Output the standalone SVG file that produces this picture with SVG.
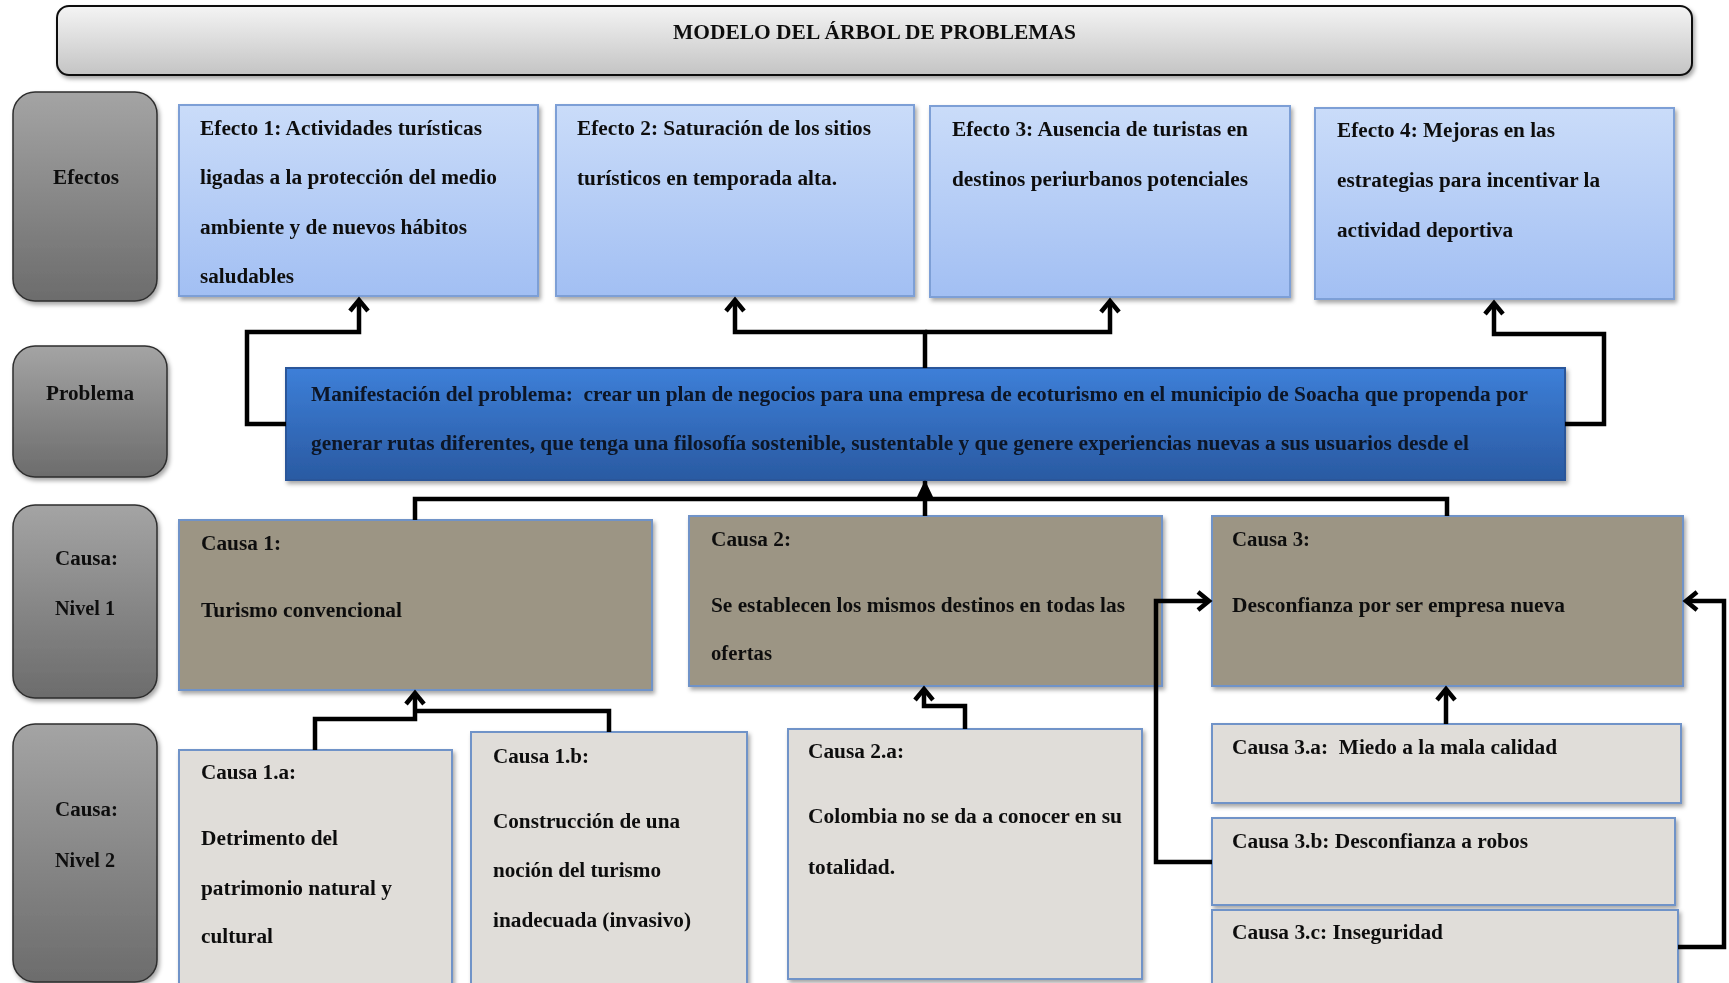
<svg xmlns="http://www.w3.org/2000/svg" width="1729" height="983" viewBox="0 0 1729 983">
<defs>
<linearGradient id="gTitle" x1="0" y1="0" x2="0" y2="1"><stop offset="0" stop-color="#f4f4f4"/><stop offset="1" stop-color="#c4c4c4"/></linearGradient>
<linearGradient id="gLab" x1="0" y1="0" x2="0" y2="1"><stop offset="0" stop-color="#a4a4a4"/><stop offset="1" stop-color="#6c6c6c"/></linearGradient>
<linearGradient id="gEf" x1="0" y1="0" x2="0" y2="1"><stop offset="0" stop-color="#cadcf9"/><stop offset="1" stop-color="#a2bff3"/></linearGradient>
<linearGradient id="gPr" x1="0" y1="0" x2="0" y2="1"><stop offset="0" stop-color="#3d7fd8"/><stop offset="1" stop-color="#2a5aa2"/></linearGradient>
<filter id="sh" x="-5%" y="-5%" width="115%" height="125%"><feDropShadow dx="2" dy="3" stdDeviation="2" flood-color="#000" flood-opacity="0.35"/></filter>
<marker id="ah" markerUnits="userSpaceOnUse" viewBox="-16 -13 20 26" markerWidth="20" markerHeight="26" refX="0" refY="0" orient="auto">
<path d="M-11,-9 L0,0 L-11,9" fill="none" stroke="#000" stroke-width="4.5"/>
</marker>
<marker id="ahf" markerUnits="userSpaceOnUse" viewBox="-20 -11 22 22" markerWidth="22" markerHeight="22" refX="0" refY="0" orient="auto">
<path d="M-18,-9 L1,0 L-18,9 Z" fill="#000"/>
</marker>
<style>
text{font-family:"Liberation Serif","Times New Roman",serif;font-weight:bold;font-size:20px;fill:#111}
.t{font-size:21px}
.pt{fill:#0c1526}
.lab{stroke:#2e2e2e;stroke-width:1.5;fill:url(#gLab)}
.ef{fill:url(#gEf);stroke:#7d9fd6;stroke-width:2}
.pr{fill:url(#gPr);stroke:#2b569a;stroke-width:2}
.c1{fill:#9c9584;stroke:#6f93c8;stroke-width:2}
.c2{fill:#e0ddd9;stroke:#6f93c8;stroke-width:2}
.cn{fill:none;stroke:#000;stroke-width:4.5;stroke-linejoin:miter}
.ar{marker-end:url(#ah)}
.af{marker-end:url(#ahf)}
</style>
</defs>
<rect width="1729" height="983" fill="#fff"/>

<g id="title" filter="url(#sh)">
<rect x="57" y="6" width="1635" height="69" rx="12" fill="url(#gTitle)" stroke="#111" stroke-width="2"/>
<text class="t" x="673" y="39" textLength="403" lengthAdjust="spacingAndGlyphs">MODELO DEL ÁRBOL DE PROBLEMAS</text>
</g>

<g id="lab-efectos" filter="url(#sh)">
<rect class="lab" x="13" y="92" width="144" height="209" rx="22"/>
<text x="53" y="184" textLength="66" lengthAdjust="spacingAndGlyphs">Efectos</text>
</g>
<g id="lab-problema" filter="url(#sh)">
<rect class="lab" x="13" y="346" width="154" height="131" rx="22"/>
<text x="46" y="400" textLength="88" lengthAdjust="spacingAndGlyphs">Problema</text>
</g>
<g id="lab-nivel1" filter="url(#sh)">
<rect class="lab" x="13" y="505" width="144" height="193" rx="22"/>
<text x="55" y="565" textLength="63" lengthAdjust="spacingAndGlyphs">Causa:</text>
<text x="55" y="615" textLength="60" lengthAdjust="spacingAndGlyphs">Nivel 1</text>
</g>
<g id="lab-nivel2" filter="url(#sh)">
<rect class="lab" x="13" y="724" width="144" height="258" rx="22"/>
<text x="55" y="816" textLength="63" lengthAdjust="spacingAndGlyphs">Causa:</text>
<text x="55" y="867" textLength="60" lengthAdjust="spacingAndGlyphs">Nivel 2</text>
</g>

<g id="efecto1" filter="url(#sh)">
<rect class="ef" x="179" y="105" width="359" height="191"/>
<text x="200" y="135" textLength="282" lengthAdjust="spacingAndGlyphs">Efecto 1: Actividades turísticas</text>
<text x="200" y="184" textLength="297" lengthAdjust="spacingAndGlyphs">ligadas a la protección del medio</text>
<text x="200" y="234" textLength="267" lengthAdjust="spacingAndGlyphs">ambiente y de nuevos hábitos</text>
<text x="200" y="283" textLength="94" lengthAdjust="spacingAndGlyphs">saludables</text>
</g>
<g id="efecto2" filter="url(#sh)">
<rect class="ef" x="556" y="105" width="358" height="191"/>
<text x="577" y="135" textLength="294" lengthAdjust="spacingAndGlyphs">Efecto 2: Saturación de los sitios</text>
<text x="577" y="185" textLength="260" lengthAdjust="spacingAndGlyphs">turísticos en temporada alta.</text>
</g>
<g id="efecto3" filter="url(#sh)">
<rect class="ef" x="930" y="106" width="360" height="191"/>
<text x="952" y="136" textLength="296" lengthAdjust="spacingAndGlyphs">Efecto 3: Ausencia de turistas en</text>
<text x="952" y="186" textLength="296" lengthAdjust="spacingAndGlyphs">destinos periurbanos potenciales</text>
</g>
<g id="efecto4" filter="url(#sh)">
<rect class="ef" x="1315" y="108" width="359" height="191"/>
<text x="1337" y="137" textLength="218" lengthAdjust="spacingAndGlyphs">Efecto 4: Mejoras en las</text>
<text x="1337" y="187" textLength="263" lengthAdjust="spacingAndGlyphs">estrategias para incentivar la</text>
<text x="1337" y="237" textLength="176" lengthAdjust="spacingAndGlyphs">actividad deportiva</text>
</g>

<g id="problema" filter="url(#sh)">
<rect class="pr" x="286" y="368" width="1279" height="112"/>
<text class="pt" x="311" y="401" textLength="1217" lengthAdjust="spacingAndGlyphs">Manifestación del problema:&#160; crear un plan de negocios para una empresa de ecoturismo en el municipio de Soacha que propenda por</text>
<text class="pt" x="311" y="450" textLength="1158" lengthAdjust="spacingAndGlyphs">generar rutas diferentes, que tenga una filosofía sostenible, sustentable y que genere experiencias nuevas a sus usuarios desde el</text>
</g>

<g id="causa1" filter="url(#sh)">
<rect class="c1" x="179" y="520" width="473" height="170"/>
<text x="201" y="550" textLength="80" lengthAdjust="spacingAndGlyphs">Causa 1:</text>
<text x="201" y="617" textLength="201" lengthAdjust="spacingAndGlyphs">Turismo convencional</text>
</g>
<g id="causa2" filter="url(#sh)">
<rect class="c1" x="689" y="516" width="473" height="170"/>
<text x="711" y="546" textLength="80" lengthAdjust="spacingAndGlyphs">Causa 2:</text>
<text x="711" y="612" textLength="414" lengthAdjust="spacingAndGlyphs">Se establecen los mismos destinos en todas las</text>
<text x="711" y="660" textLength="61" lengthAdjust="spacingAndGlyphs">ofertas</text>
</g>
<g id="causa3" filter="url(#sh)">
<rect class="c1" x="1212" y="516" width="471" height="170"/>
<text x="1232" y="546" textLength="78" lengthAdjust="spacingAndGlyphs">Causa 3:</text>
<text x="1232" y="612" textLength="333" lengthAdjust="spacingAndGlyphs">Desconfianza por ser empresa nueva</text>
</g>

<g id="causa1a" filter="url(#sh)">
<rect class="c2" x="179" y="750" width="273" height="245"/>
<text x="201" y="779" textLength="95" lengthAdjust="spacingAndGlyphs">Causa 1.a:</text>
<text x="201" y="845" textLength="137" lengthAdjust="spacingAndGlyphs">Detrimento del</text>
<text x="201" y="895" textLength="191" lengthAdjust="spacingAndGlyphs">patrimonio natural y</text>
<text x="201" y="943" textLength="72" lengthAdjust="spacingAndGlyphs">cultural</text>
</g>
<g id="causa1b" filter="url(#sh)">
<rect class="c2" x="471" y="732" width="276" height="263"/>
<text x="493" y="763" textLength="96" lengthAdjust="spacingAndGlyphs">Causa 1.b:</text>
<text x="493" y="828" textLength="187" lengthAdjust="spacingAndGlyphs">Construcción de una</text>
<text x="493" y="877" textLength="168" lengthAdjust="spacingAndGlyphs">noción del turismo</text>
<text x="493" y="927" textLength="198" lengthAdjust="spacingAndGlyphs">inadecuada (invasivo)</text>
</g>
<g id="causa2a" filter="url(#sh)">
<rect class="c2" x="788" y="729" width="354" height="250"/>
<text x="808" y="758" textLength="96" lengthAdjust="spacingAndGlyphs">Causa 2.a:</text>
<text x="808" y="823" textLength="314" lengthAdjust="spacingAndGlyphs">Colombia no se da a conocer en su</text>
<text x="808" y="874" textLength="87" lengthAdjust="spacingAndGlyphs">totalidad.</text>
</g>
<g id="causa3a" filter="url(#sh)">
<rect class="c2" x="1212" y="724" width="469" height="79"/>
<text x="1232" y="754" textLength="325" lengthAdjust="spacingAndGlyphs">Causa 3.a:&#160; Miedo a la mala calidad</text>
</g>
<g id="causa3b" filter="url(#sh)">
<rect class="c2" x="1212" y="818" width="463" height="87"/>
<text x="1232" y="848" textLength="296" lengthAdjust="spacingAndGlyphs">Causa 3.b: Desconfianza a robos</text>
</g>
<g id="causa3c" filter="url(#sh)">
<rect class="c2" x="1212" y="910" width="466" height="85"/>
<text x="1232" y="939" textLength="211" lengthAdjust="spacingAndGlyphs">Causa 3.c: Inseguridad</text>
</g>

<g id="connectors">
<path class="cn ar" d="M286,424 H247 V332 H359 V300"/>
<path class="cn ar" d="M925,368 V332 H735 V300"/>
<path class="cn ar" d="M925,332 H1110 V301"/>
<path class="cn ar" d="M1565,424 H1604 V334 H1494 V303"/>
<path class="cn" d="M415,520 V499 H1447 V516"/>
<path class="cn af" d="M925,516 V481"/>
<path class="cn ar" d="M315,750 V719 H415 V693"/>
<path class="cn" d="M609,732 V711 H415"/>
<path class="cn ar" d="M965,729 V706 H924 V689"/>
<path class="cn ar" d="M1446,724 V689"/>
<path class="cn ar" d="M1212,862 H1156 V601 H1209"/>
<path class="cn ar" d="M1678,947 H1724 V601 H1686"/>
</g>
</svg>
